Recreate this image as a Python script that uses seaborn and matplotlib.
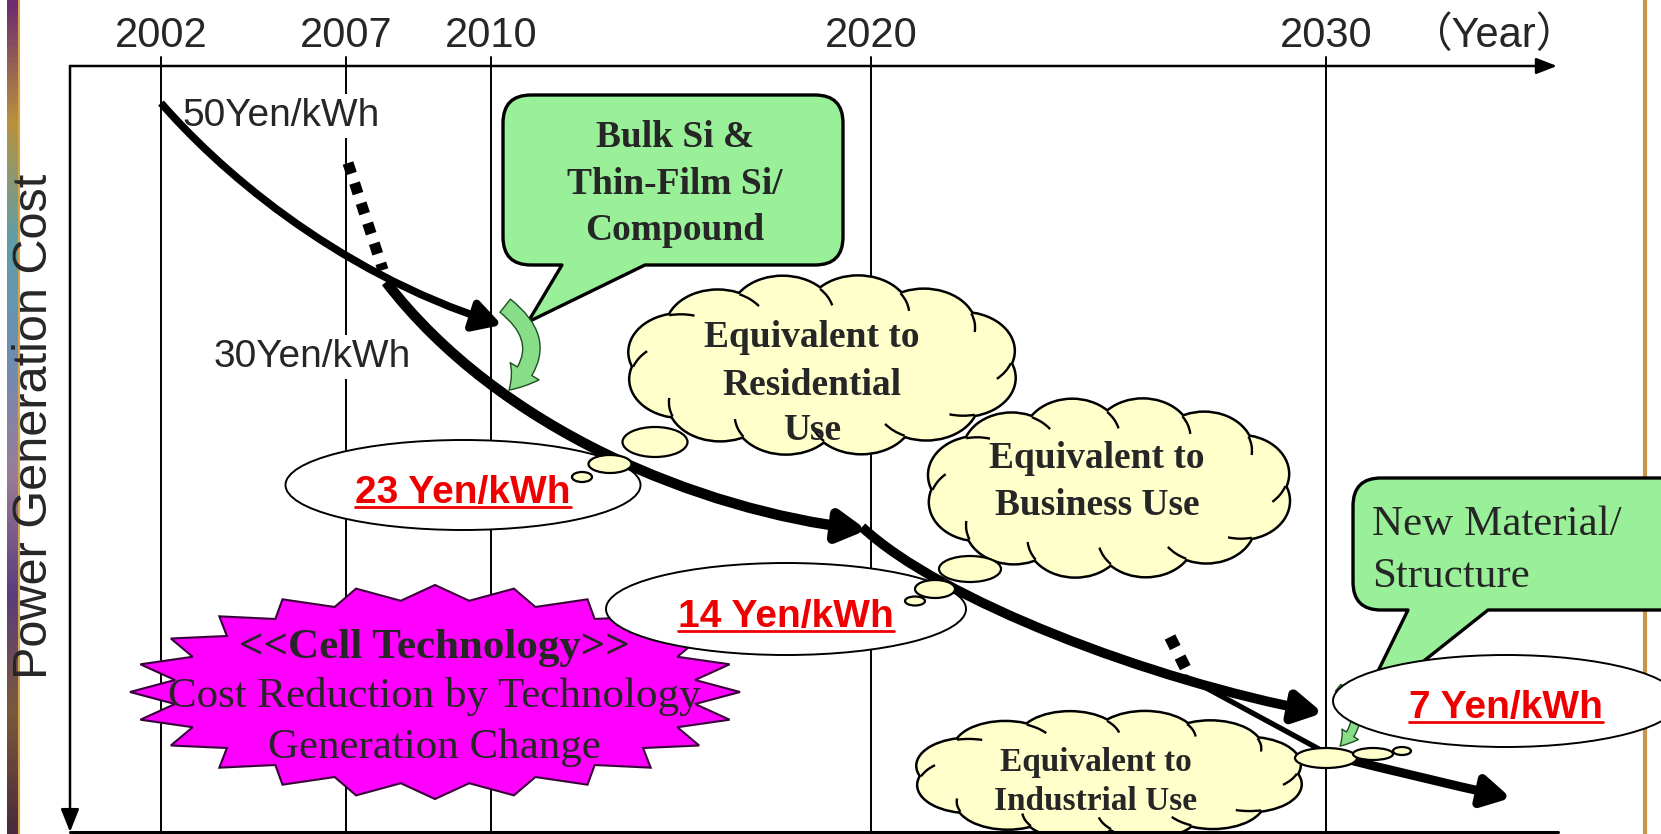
import numpy as np
import pandas as pd
import seaborn as sns
import matplotlib.pyplot as plt
from matplotlib.patches import Ellipse, Polygon, PathPatch, FancyArrowPatch, Arc
from matplotlib.path import Path
from matplotlib.colors import LinearSegmentedColormap

# schematic time axis (year ticks are not evenly spaced in the original)
years = ['2002', '2007', '2010', '2020', '2030']
year_x = [161, 346, 491, 871, 1326]

# cost milestones
start_costs = ['50Yen/kWh', '30Yen/kWh']
target_costs = ['23 Yen/kWh', '14 Yen/kWh', '7 Yen/kWh']
use_levels = [['Equivalent to', 'Residential', 'Use'],
              ['Equivalent to', 'Business Use'],
              ['Equivalent to', 'Industrial Use']]
tech_notes = [['Bulk Si &', 'Thin-Film Si/', 'Compound'],
              ['New Material/', 'Structure']]
cell_note = ['<<Cell Technology>>', 'Cost Reduction by Technology', 'Generation Change']

# cost trajectories (bezier control points, pixel space)
path_2002 = [(161, 103), (215, 165), (330, 270), (502, 325)]
path_2007 = [(386, 282), (500, 430), (700, 510), (867, 530)]
path_2020 = [(862, 527), (940, 600), (1150, 680), (1323, 713)]
path_2030 = [(1330, 755), (1420, 778), (1511, 798)]

CLOUD = '#ffffcc'
GREEN = '#99f099'
RED = '#ee0000'

sns.set_theme(style='white')
plt.rcParams['font.family'] = ['Liberation Sans', 'DejaVu Sans']

fig = plt.figure(figsize=(16.61, 8.34), dpi=100)
ax = fig.add_axes([0, 0, 1, 1])
ax.set_facecolor('white')

# decorative strip on the left edge and gold rule on the right
strip = LinearSegmentedColormap.from_list('strip', ['#6e2b6e', '#b8923e', '#5f9eaa', '#6f8cb4',
                                                    '#9a7c98', '#5b3c7c', '#7a5a3a', '#4a2a3a'])
ax.imshow(np.linspace(0, 1, 200).reshape(-1, 1), cmap=strip, extent=[7, 19, 834, 0],
          aspect='auto', zorder=0.5)
ax.plot([19, 19], [0, 834], color='#d4a54a', lw=1.5, zorder=0.6)
ax.plot([1645, 1645], [0, 834], color='#c8964a', lw=3, zorder=0.6)

# year grid lines
grid = pd.DataFrame({'year': np.repeat(years, 2),
                     'x': np.repeat(year_x, 2),
                     'y': [57, 832] * len(years)})
sns.lineplot(data=grid, x='x', y='y', units='year', estimator=None, color='black',
             lw=1.4, sort=False, ax=ax, zorder=1)
for lab, x in zip(years, year_x):
    ax.text(x, 47, lab, fontsize=30, ha='center', va='baseline')
ax.text(1494, 47, '（Year）', fontsize=30, ha='center', va='baseline',
        family=['Liberation Sans', 'Noto Sans CJK JP'])

# axes with arrows
ax.add_patch(FancyArrowPatch((70, 66), (1557, 66), arrowstyle='-|>,head_length=0.9,head_width=0.35',
                             mutation_scale=14, lw=1.8, color='black', shrinkA=0, shrinkB=0, zorder=1))
ax.add_patch(FancyArrowPatch((70, 66), (70, 832), arrowstyle='-|>,head_length=1.0,head_width=0.4',
                             mutation_scale=14, lw=1.8, color='black', shrinkA=0, shrinkB=0, zorder=1))
ax.plot([70, 1558], [832, 832], color='black', lw=2.2, zorder=4.5)
ax.text(47, 426, 'Power Generation Cost', fontsize=35, rotation=90, rotation_mode='anchor',
        ha='center', va='baseline')


def cloud(cx, cy, rx, ry, n=12, off=0.25):
    bx, by = rx * 0.26, ry * 0.42
    t = np.linspace(0, 2 * np.pi, n, endpoint=False) + off
    px = cx + (rx - bx) * np.cos(t)
    py = cy + (ry - by) * np.sin(t)
    for lw, ec, z in [(3.6, 'black', 2.0), (0, 'none', 2.01)]:
        for x, y in zip(px, py):
            ax.add_patch(Ellipse((x, y), 2 * bx, 2 * by, fc=CLOUD, ec=ec, lw=lw, zorder=z))
        ax.add_patch(Ellipse((cx, cy), 2 * (rx - bx), 2 * (ry - by), fc=CLOUD, ec='none', zorder=z))
    # short hooks where one puff runs into the next, as in the office "cloud" shape
    s = np.radians(np.arange(360))
    for i, (x, y) in enumerate(zip(px, py)):
        qx, qy = x + bx * np.cos(s), y + by * np.sin(s)
        vis = ((qx - cx) / (rx - bx)) ** 2 + ((qy - cy) / (ry - by)) ** 2 > 1
        for j, (x2, y2) in enumerate(zip(px, py)):
            if j != i:
                vis &= ((qx - x2) / bx) ** 2 + ((qy - y2) / by) ** 2 > 1
        ends = np.where(vis & ~np.roll(vis, -1))[0]
        if len(ends) == 0:
            continue
        s0 = s[ends[0]]
        t1 = np.degrees(np.arctan2(by * np.sin(s0), bx * np.cos(s0)))
        t2 = np.degrees(np.arctan2(by * np.sin(s0 + 0.5), bx * np.cos(s0 + 0.5)))
        if t2 < t1:
            t2 += 360
        ax.add_patch(Arc((x, y), 2 * bx, 2 * by, theta1=t1, theta2=t2,
                         color='black', lw=1.7, zorder=2.02))


def puffs(items):
    for x, y, w, h in items:
        ax.add_patch(Ellipse((x, y), w, h, fc=CLOUD, ec='black', lw=1.6, zorder=4))


def bubble(x0, y0, x1, y1, r, ta, tb, tip, z=2):
    verts = [(x0 + r, y0), (x1 - r, y0), (x1, y0), (x1, y0 + r), (x1, y1 - r), (x1, y1),
             (x1 - r, y1), (tb, y1), tip, (ta, y1), (x0 + r, y1), (x0, y1), (x0, y1 - r),
             (x0, y0 + r), (x0, y0), (x0 + r, y0), (x0 + r, y0)]
    codes = [Path.MOVETO, Path.LINETO, Path.CURVE3, Path.CURVE3, Path.LINETO, Path.CURVE3,
             Path.CURVE3, Path.LINETO, Path.LINETO, Path.LINETO, Path.LINETO, Path.CURVE3,
             Path.CURVE3, Path.LINETO, Path.CURVE3, Path.CURVE3, Path.CLOSEPOLY]
    ax.add_patch(PathPatch(Path(verts, codes), fc=GREEN, ec='black', lw=2.4,
                           joinstyle='round', zorder=z))


def curve(pts, lw, head=True, z=3):
    codes = [Path.MOVETO] + ([Path.CURVE4] * 3 if len(pts) == 4 else [Path.CURVE3] * 2)
    style = '-|>,head_length=0.75,head_width=0.42' if head else '-'
    ax.add_patch(FancyArrowPatch(path=Path(pts, codes), arrowstyle=style, mutation_scale=22,
                                 lw=lw, color='black', capstyle='butt', zorder=z))


def dots(p0, p1, lw):
    ax.plot([p0[0], p1[0]], [p0[1], p1[1]], color='black', lw=lw, dashes=(1, 0.9),
            dash_capstyle='butt', zorder=3)


# starburst
k = np.arange(48)
rr = np.where(k % 2 == 0, 1.0, 0.86)
star = np.column_stack([435 + 305 * rr * np.cos(k * np.pi / 24), 692 + 107 * rr * np.sin(k * np.pi / 24)])
ax.add_patch(Polygon(star, closed=True, fc='#ff00ff', ec='#3a003a', lw=1.5, zorder=1.8))

# target ellipses
for (cx, cy, w, h) in [(463, 485, 355, 90), (786, 609, 360, 92)]:
    ax.add_patch(Ellipse((cx, cy), w, h, fc='white', ec='black', lw=1.4, zorder=2))
ax.add_patch(Ellipse((1506, 701), 346, 92, fc='white', ec='black', lw=1.4, zorder=2.3))

# clouds
cloud(822, 365, 197, 90)
cloud(1109, 488, 184, 90)
cloud(1109, 775, 196, 64)
puffs([(655, 442, 65, 30), (610, 464, 43, 18), (582, 477, 20, 10)])
puffs([(970, 569, 62, 26), (935, 589, 40, 18), (915, 601, 20, 9)])
puffs([(1326, 758, 62, 20), (1373, 754, 40, 12), (1402, 751, 18, 8)])

# callouts
bubble(503, 95, 843, 265, 28, 562, 645, (528, 322))
bubble(1353, 478, 1690, 610, 28, 1408, 1488, (1357, 714))

# trajectories
curve(path_2002, 5.5)
dots((348, 163), (383, 270), 8)
curve(path_2007, 7.5)
curve(path_2020, 7.0)
dots((1170, 637), (1188, 673), 8.5)
ax.plot([1186, 1330], [677, 755], color='black', lw=3.8, zorder=3)
curve(path_2030, 6.5)

# green turn arrows
ax.add_patch(FancyArrowPatch((503, 304), (507, 392), connectionstyle='arc3,rad=-0.6',
                             arrowstyle='simple,head_length=0.8,head_width=1.1,tail_width=0.55',
                             mutation_scale=22, fc='#88dd88', ec='#1f4f1f', lw=1, zorder=3.5))
ax.add_patch(FancyArrowPatch((1336, 686), (1338, 748), connectionstyle='arc3,rad=-0.6',
                             arrowstyle='simple,head_length=0.8,head_width=1.0,tail_width=0.45',
                             mutation_scale=14, fc='#88dd88', ec='#1f4f1f', lw=1, zorder=2.2))

# texts
for lab, (x, y) in zip(start_costs, [(182, 126), (214, 367)]):
    ax.text(x, y, lab, fontsize=28, ha='left', va='baseline', zorder=2.5,
            bbox=dict(fc='white', ec='none', pad=3))

for line, y in zip(tech_notes[0], [147, 194, 240]):
    ax.text(675, y, line, fontsize=27, family='Liberation Serif', weight='bold',
            ha='center', va='baseline', zorder=5)
for line, y in zip(tech_notes[1], [535, 587]):
    ax.text(1372, y, line, fontsize=31, family='Liberation Serif', ha='left', va='baseline', zorder=5)

for line, y in zip(use_levels[0], [347, 395, 440]):
    ax.text(812, y, line, fontsize=27, family='Liberation Serif', weight='bold',
            ha='center', va='baseline', zorder=5)
for line, y in zip(use_levels[1], [468, 515]):
    ax.text(1097, y, line, fontsize=27, family='Liberation Serif', weight='bold',
            ha='center', va='baseline', zorder=5)
for line, y in zip(use_levels[2], [771, 810]):
    ax.text(1096, y, line, fontsize=24, family='Liberation Serif', weight='bold',
            ha='center', va='baseline', zorder=5)

for i, (line, y) in enumerate(zip(cell_note, [658, 707, 758])):
    ax.text(434, y, line, fontsize=31, family='Liberation Serif', weight='bold' if i == 0 else 'normal',
            ha='center', va='baseline', zorder=5)

red_texts = []
for lab, (x, y) in zip(target_costs, [(463, 503), (786, 627), (1506, 718)]):
    red_texts.append((ax.text(x, y, lab, fontsize=28, weight='bold', color=RED,
                              ha='center', va='baseline', zorder=5), y))

ax.set_xlim(0, 1661)
ax.set_ylim(834, 0)
ax.axis('off')

fig.canvas.draw()
inv = ax.transData.inverted()
for t, y in red_texts:
    bb = t.get_window_extent().transformed(inv)
    ax.plot([bb.x0, bb.x1], [y + 4, y + 4], color=RED, lw=2, zorder=5)

fig.savefig('out.png', dpi=100, facecolor='white')
